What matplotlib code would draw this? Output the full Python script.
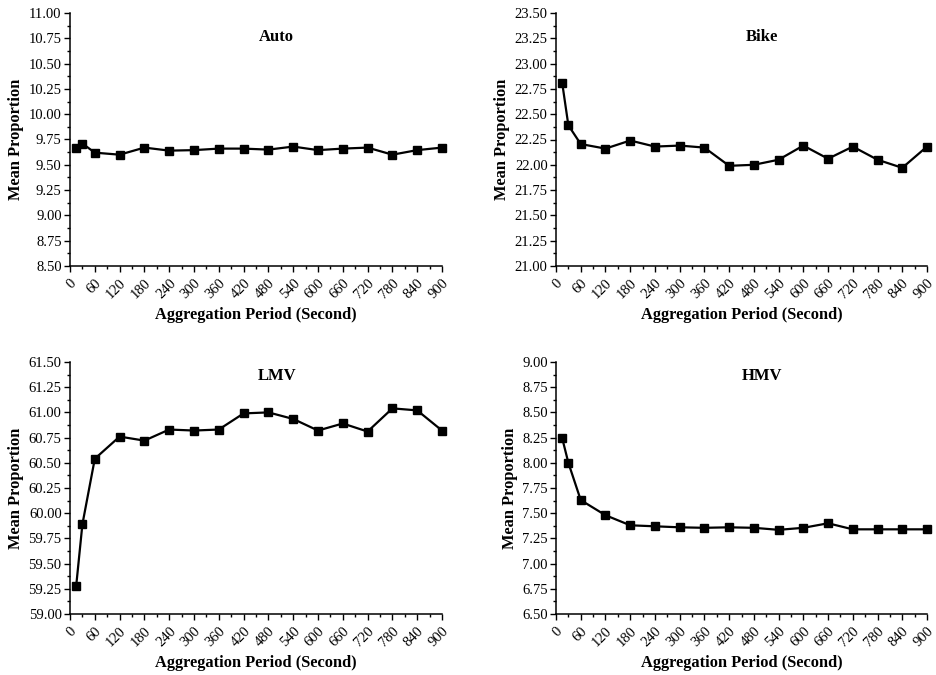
import matplotlib
matplotlib.use("Agg")
import matplotlib.pyplot as plt
from matplotlib.ticker import MultipleLocator, FormatStrFormatter

plt.rcParams['font.family'] = ['Liberation Serif', 'DejaVu Serif']

# aggregation periods (s)
period = [15, 30, 60, 120, 180, 240, 300, 360, 420, 480, 540, 600, 660, 720, 780, 840, 900]

auto = [9.67, 9.71, 9.62, 9.60, 9.67, 9.64, 9.645, 9.66, 9.66, 9.65, 9.68, 9.645, 9.66, 9.67, 9.60, 9.645, 9.67]
bike = [22.81, 22.39, 22.205, 22.16, 22.24, 22.18, 22.19, 22.17, 21.99, 22.00, 22.05, 22.19, 22.06, 22.18, 22.05, 21.97, 22.18]
lmv = [59.28, 59.89, 60.54, 60.76, 60.72, 60.83, 60.82, 60.83, 60.99, 61.00, 60.935, 60.82, 60.89, 60.81, 61.04, 61.02, 60.82]
hmv = [8.245, 8.00, 7.63, 7.48, 7.38, 7.37, 7.36, 7.355, 7.36, 7.355, 7.335, 7.355, 7.40, 7.34, 7.34, 7.34, 7.34]

xticks = list(range(0, 901, 60))

panels = [
    ("Auto", auto, (8.5, 11.0), [70, 13, 442, 266], 0.905),
    ("Bike", bike, (21.0, 23.5), [556, 13, 927, 266], 0.905),
    ("LMV", lmv, (59.0, 61.5), [70, 362, 442, 614], 0.944),
    ("HMV", hmv, (6.5, 9.0), [556, 362, 927, 614], 0.944),
]

W, H = 937, 675
fig = plt.figure(figsize=(W / 100, H / 100), dpi=100)

for name, vals, ylim, box, ty in panels:
    x0, y0, x1, y1 = box
    ax = fig.add_axes([x0 / W, (H - y1) / H, (x1 - x0) / W, (y1 - y0) / H])
    ax.plot(period, vals, color='black', lw=1.6, marker='s', markersize=5.8, clip_on=False, zorder=3)
    ax.set_xlim(0, 900)
    ax.set_ylim(*ylim)
    ax.set_xticks(xticks)
    ax.set_xticklabels([str(t) for t in xticks], rotation=45, ha='right', va='top',
                       rotation_mode='anchor', fontsize=10.5)
    ax.xaxis.set_minor_locator(MultipleLocator(30))
    ax.yaxis.set_major_locator(MultipleLocator(0.25))
    ax.yaxis.set_minor_locator(MultipleLocator(0.125))
    ax.yaxis.set_major_formatter(FormatStrFormatter('%.2f'))
    ax.tick_params(axis='y', labelsize=10.5, pad=2)
    ax.tick_params(which='major', length=4, width=1, direction='out')
    ax.tick_params(which='minor', length=2.5, width=1, direction='out')
    ax.spines['top'].set_visible(False)
    ax.spines['right'].set_visible(False)
    ax.spines['left'].set_linewidth(1.1)
    ax.spines['bottom'].set_linewidth(1.1)
    ax.set_xlabel("Aggregation Period (Second)", fontsize=11.8, fontweight='bold', labelpad=4)
    ax.set_ylabel("Mean Proportion", fontsize=11.8, fontweight='bold', labelpad=3)
    ax.text(0.556, ty, name, transform=ax.transAxes, ha='center', va='center',
            fontsize=12, fontweight='bold')

fig.savefig("out.png", dpi=100)
